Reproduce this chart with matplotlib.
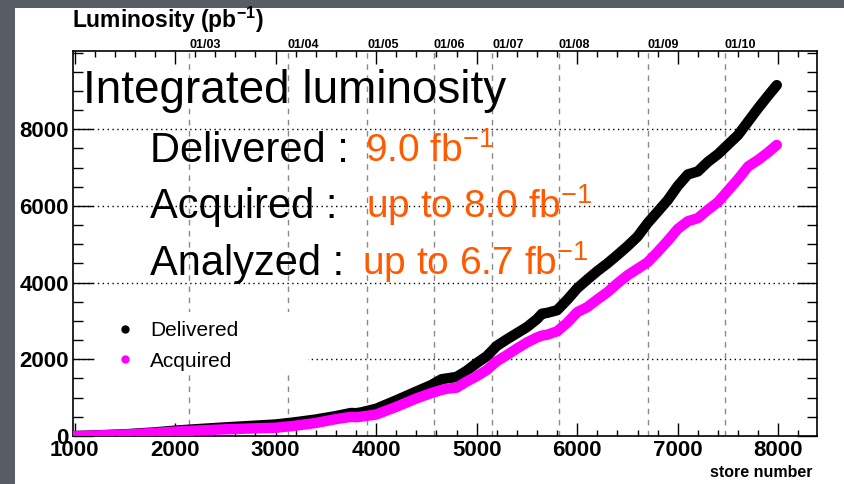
import matplotlib
matplotlib.use("Agg")
import matplotlib.pyplot as plt
from matplotlib.patches import Rectangle
from matplotlib.lines import Line2D
from matplotlib.ticker import MultipleLocator

plt.rcParams['font.family'] = ['Liberation Sans', 'DejaVu Sans']
plt.rcParams['mathtext.fontset'] = 'custom'
plt.rcParams['mathtext.rm'] = 'Liberation Sans'
plt.rcParams['mathtext.bf'] = 'Liberation Sans:bold'
plt.rcParams['mathtext.it'] = 'Liberation Sans:italic'

# ---------------- data ----------------
stores = [1000, 1200, 1500, 1800, 2000, 2200, 2500, 2800, 3000, 3200, 3400, 3600,
          3750, 3800, 3850, 4000, 4200, 4400, 4550, 4650, 4700, 4800, 4900, 5000,
          5100, 5200, 5300, 5400, 5500, 5600, 5650, 5700, 5800, 5900, 6000, 6100,
          6200, 6300, 6400, 6500, 6600, 6700, 6800, 6900, 7000, 7100, 7200, 7300,
          7400, 7500, 7600, 7700, 7800, 7900, 7985]
delivered = [0, 15, 45, 95, 140, 175, 225, 270, 300, 360, 430, 520,
             600, 595, 615, 710, 930, 1160, 1330, 1480, 1500, 1540, 1700, 1900,
             2080, 2350, 2520, 2680, 2840, 3050, 3190, 3210, 3280, 3550, 3850, 4080,
             4300, 4500, 4720, 4950, 5200, 5550, 5850, 6150, 6520, 6820, 6900, 7150,
             7350, 7600, 7850, 8200, 8550, 8880, 9150]
acquired = [0, 12, 38, 80, 115, 140, 175, 200, 215, 270, 340, 440,
            500, 490, 505, 560, 760, 980, 1120, 1200, 1230, 1260, 1420, 1560,
            1720, 1950, 2110, 2280, 2440, 2570, 2620, 2640, 2730, 2950, 3230, 3360,
            3560, 3750, 3980, 4190, 4360, 4530, 4800, 5090, 5400, 5600, 5680, 5900,
            6100, 6400, 6700, 7030, 7200, 7400, 7590]

date_stores = [2139, 3119, 3910, 4572, 5154, 5816, 6701, 7468]
date_labels = ['01/03', '01/04', '01/05', '01/06', '01/07', '01/08', '01/09', '01/10']
y_grid = [2000, 4000, 6000, 8000]
x_ticks = [1000, 2000, 3000, 4000, 5000, 6000, 7000, 8000]
y_ticks = [0, 2000, 4000, 6000, 8000]

ORANGE = '#ff5a00'
MAGENTA = '#ff00ff'
W, H = 845, 484

def fx(px):
    return px / W

def fy(py):
    return 1 - py / H

fig = plt.figure(figsize=(W / 100, H / 100), dpi=100, facecolor='#585c64')
fig.patches.append(Rectangle((fx(15), 0), fx(830), 1 - 8 / H, transform=fig.transFigure,
                             facecolor='white', edgecolor='none', zorder=-5))

ax = fig.add_axes([fx(73), fy(436), fx(816.7) - fx(73), fy(51) - fy(436)])
ax.set_zorder(2)
ax.set_facecolor('white')
ax.set_xlim(985, 8382)
ax.set_ylim(0, 10040)

for s in ax.spines.values():
    s.set_linewidth(1.2)

# grid lines
for s in date_stores:
    ax.axvline(s, color='#8a8a8a', lw=1.0, ls=(0, (4, 4)), zorder=1)
for v in y_grid:
    ax.axhline(v, color='black', lw=1.0, ls=(0, (1, 2.5)), zorder=1)

# legend background box
ax.add_patch(Rectangle((0.032, 0.166), 0.284, 0.156, transform=ax.transAxes,
                       facecolor='white', edgecolor='none', zorder=1.5))

ax.plot(stores, delivered, color='black', lw=7.5, solid_capstyle='round',
        solid_joinstyle='round', zorder=3)
ax.plot(stores, acquired, color=MAGENTA, lw=7.5, solid_capstyle='round',
        solid_joinstyle='round', zorder=3.1)

# ticks
ax.set_xticks(x_ticks)
ax.set_yticks(y_ticks)
ax.xaxis.set_minor_locator(MultipleLocator(200))
ax.yaxis.set_minor_locator(MultipleLocator(500))
ax.tick_params(axis='x', which='major', direction='in', length=9.5, width=1.0,
               top=True, bottom=True, labelsize=16, pad=3)
ax.tick_params(axis='x', which='minor', direction='in', length=4.5, width=1.0,
               top=True, bottom=True)
ax.tick_params(axis='y', which='major', direction='in', length=14.4, width=1.0,
               left=True, right=True, labelsize=16, pad=3)
ax.tick_params(axis='y', which='minor', direction='in', length=7.2, width=1.0,
               left=True, right=True)
for lab in ax.get_xticklabels() + ax.get_yticklabels():
    lab.set_fontweight('bold')

# date labels on top
for s, lab in zip(date_stores, date_labels):
    ax.text(s, 1.008, lab, transform=ax.get_xaxis_transform(), ha='left',
            va='baseline', fontsize=9, fontweight='bold', clip_on=False)

# legend
handles = [Line2D([], [], ls='none', marker='o', ms=5, color='black'),
           Line2D([], [], ls='none', marker='o', ms=5, color=MAGENTA)]
leg = ax.legend(handles, ['Delivered', 'Acquired'], loc='upper left',
                bbox_to_anchor=(0.056, 0.298), frameon=False, fontsize=15,
                handlelength=1.0, handletextpad=0.7, labelspacing=0.55,
                borderpad=0, borderaxespad=0)
leg.set_zorder(5)

# axis titles
fig.text(fx(72), fy(28), r'Luminosity (pb$^{\mathbf{-1}}$)', fontsize=16.5,
         fontweight='bold', ha='left', va='baseline')
fig.text(fx(813), fy(477), 'store number', fontsize=11.5, fontweight='bold',
         ha='right', va='baseline')

# annotation text
fig.text(fx(83), fy(103), 'Integrated luminosity', fontsize=33, ha='left', va='baseline', zorder=10)
fig.text(fx(150), fy(162), 'Delivered :', fontsize=30, ha='left', va='baseline', zorder=10)
fig.text(fx(365), fy(162), r'9.0 fb$^{-1}$', fontsize=28, color=ORANGE, ha='left', va='baseline', zorder=10)
fig.text(fx(150), fy(218), 'Acquired :', fontsize=30, ha='left', va='baseline', zorder=10)
fig.text(fx(366), fy(218), r'up to 8.0 fb$^{-1}$', fontsize=28, color=ORANGE, ha='left', va='baseline', zorder=10)
fig.text(fx(150), fy(275), 'Analyzed :', fontsize=30, ha='left', va='baseline', zorder=10)
fig.text(fx(362), fy(275), r'up to 6.7 fb$^{-1}$', fontsize=28, color=ORANGE, ha='left', va='baseline', zorder=10)

fig.savefig('out.png', dpi=100, facecolor=fig.get_facecolor())
